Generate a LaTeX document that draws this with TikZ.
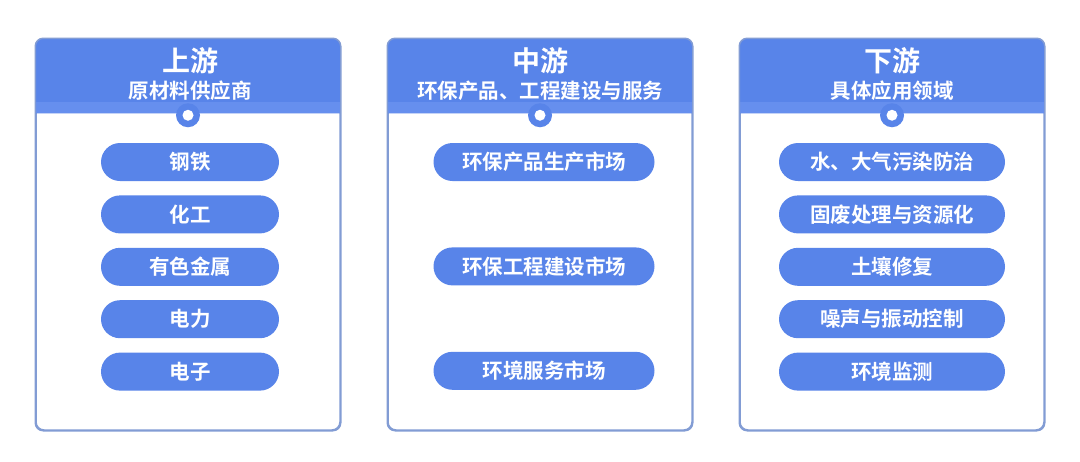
\documentclass[tikz,border=0pt]{standalone}
\usepackage{fontspec}
\setmainfont{Noto Sans CJK SC}[BoldFont={Noto Sans CJK SC Bold}]
\usetikzlibrary{positioning,calc}
\definecolor{chBlue}{RGB}{88,132,233}
\definecolor{chBand}{RGB}{102,143,238}
\definecolor{chEdge}{RGB}{130,156,212}
\tikzset{
    panel/.style={rectangle, rounded corners=8pt, draw=chEdge, line width=1.5pt,
                  fill=white, minimum width=304pt, minimum height=391pt, inner sep=0pt},
    title/.style={text=white, font=\bfseries\fontsize{28}{30}\selectfont},
    subtitle/.style={text=white, font=\bfseries\fontsize{20.5}{22}\selectfont},
    item/.style={rectangle, rounded corners=19pt, fill=chBlue, text=white,
                 font=\bfseries\fontsize{20.5}{22}\selectfont, minimum height=38pt, inner sep=0pt},
    knob/.style={circle, fill=chBlue, minimum size=24pt, inner sep=0pt},
    hole/.style={circle, fill=white, minimum size=11pt, inner sep=0pt}
}

\begin{document}
\begin{tikzpicture}[x=1pt, y=-1pt]
  \useasboundingbox (0,0) rectangle (1080,461);

  % Panels
  \foreach \name/\cx in {up/188, mid/540, down/892} {
    \node[panel] (\name) at (\cx,234.5) {};
    \fill[chBlue] ([yshift=-75pt]\name.north west) [rounded corners=8pt]
        -- (\name.north west) -- (\name.north east) [sharp corners]
        -- ([yshift=-75pt]\name.north east) -- cycle;
    \fill[chBand] ([yshift=-64pt]\name.north west) rectangle ([yshift=-75pt]\name.north east);
    \draw[chEdge, line width=1.5pt, rounded corners=8pt]
        (\name.north west) rectangle (\name.south east);
    \node[knob] (\name_knob) at ([yshift=-77pt]\name.north) {};
    \node[hole] at (\name_knob) {};
  }

  % Headers
  \node[title] (up_title) at (190,61) {上游};
  \node[subtitle] (up_sub) at (190,91) {原材料供应商};
  \node[title] (mid_title) at (540,61) {中游};
  \node[subtitle] (mid_sub) at (540,91) {环保产品、工程建设与服务};
  \node[title] (down_title) at (892,61) {下游};
  \node[subtitle] (down_sub) at (892,91) {具体应用领域};

  % Upstream items
  \node[item, minimum width=178pt] (u1) at (190,162) {钢铁};
  \node[item, minimum width=178pt] (u2) [below=14pt of u1] {化工};
  \node[item, minimum width=178pt] (u3) [below=14pt of u2] {有色金属};
  \node[item, minimum width=178pt] (u4) [below=14pt of u3] {电力};
  \node[item, minimum width=178pt] (u5) [below=14pt of u4] {电子};

  % Midstream items
  \node[item, minimum width=221pt] (m1) at (544,162) {环保产品生产市场};
  \node[item, minimum width=221pt] (m2) [below=66pt of m1] {环保工程建设市场};
  \node[item, minimum width=221pt] (m3) [below=66pt of m2] {环境服务市场};

  % Downstream items
  \node[item, minimum width=226pt] (d1) at (892,162) {水、大气污染防治};
  \node[item, minimum width=226pt] (d2) [below=14pt of d1] {固废处理与资源化};
  \node[item, minimum width=226pt] (d3) [below=14pt of d2] {土壤修复};
  \node[item, minimum width=226pt] (d4) [below=14pt of d3] {噪声与振动控制};
  \node[item, minimum width=226pt] (d5) [below=14pt of d4] {环境监测};
\end{tikzpicture}
\end{document}
